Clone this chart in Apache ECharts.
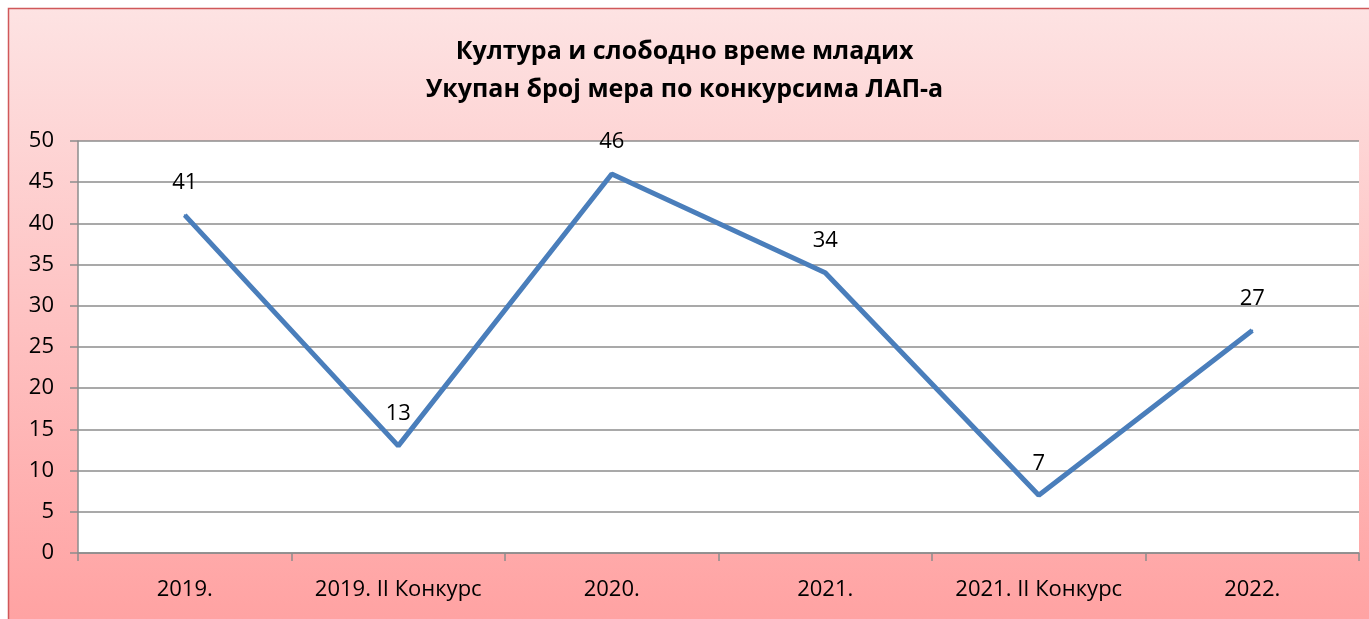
<!DOCTYPE html>
<html lang="sr">

<head>
  <meta charset="UTF-8">
  <title>Култура и слободно време младих</title>
  <style>
    html,
    body {
      margin: 0;
      padding: 0;
      background: #fff;
    }

    #chart {
      width: 1369px;
      height: 619px;
    }
  </style>
</head>

<body>
  <div id="chart"></div>

  <script src="https://cdn.jsdelivr.net/npm/echarts@6/dist/echarts.min.js"></script>
  <script>
    const titleLines = ['Култура и слободно време младих', 'Укупан број мера по конкурсима ЛАП-а'];
    const categories = ['2019.', '2019. II Конкурс', '2020.', '2021.', '2021. II Конкурс', '2022.'];
    const values = [41, 13, 46, 34, 7, 27];

    const font = '"Open Sans", "Noto Sans", sans-serif';

    const chart = echarts.init(document.getElementById('chart'));

    chart.setOption({
      animation: false,
      graphic: [{
        type: 'rect',
        z: -10,
        silent: true,
        shape: { x: 8.5, y: 8.5, width: 1420, height: 700 },
        style: {
          fill: new echarts.graphic.LinearGradient(0, 0, 0, 1, [
            { offset: 0, color: '#fde3e3' },
            { offset: 0.85, color: '#ffa4a4' },
            { offset: 1, color: '#ff9c9c' }
          ]),
          stroke: '#d0585a',
          lineWidth: 1.5
        }
      }],
      title: {
        text: titleLines.join('\n'),
        left: 'center',
        top: 28,
        textStyle: {
          fontFamily: font,
          fontWeight: 'bold',
          fontSize: 25,
          lineHeight: 38,
          color: '#000'
        }
      },
      grid: {
        left: 78,
        right: 10,
        top: 141,
        bottom: 66,
        show: true,
        backgroundColor: '#fff',
        borderWidth: 0
      },
      xAxis: {
        type: 'category',
        data: categories,
        boundaryGap: true,
        axisLine: { lineStyle: { color: '#8c8c8c', width: 1.5 } },
        axisTick: {
          show: true,
          interval: 0,
          alignWithLabel: false,
          length: 8,
          lineStyle: { color: '#8c8c8c', width: 1.5 }
        },
        axisLabel: {
          interval: 0,
          margin: 26,
          fontFamily: font,
          fontSize: 22,
          color: '#000'
        }
      },
      yAxis: {
        type: 'value',
        min: 0,
        max: 50,
        interval: 5,
        axisLine: { show: true, lineStyle: { color: '#8c8c8c', width: 1.5 } },
        axisTick: { show: true, length: 8, lineStyle: { color: '#8c8c8c', width: 1.5 } },
        splitLine: { lineStyle: { color: '#8c8c8c', width: 1.5 } },
        axisLabel: {
          margin: 24,
          fontFamily: font,
          fontSize: 22,
          color: '#000'
        }
      },
      series: [{
        type: 'line',
        data: values,
        symbol: 'circle',
        symbolSize: 2,
        itemStyle: { color: '#4a7ebb' },
        lineStyle: { color: '#4a7ebb', width: 5 },
        label: {
          show: true,
          position: 'top',
          distance: 20,
          fontFamily: font,
          fontSize: 22,
          color: '#000'
        }
      }]
    });
  </script>
</body>

</html>
